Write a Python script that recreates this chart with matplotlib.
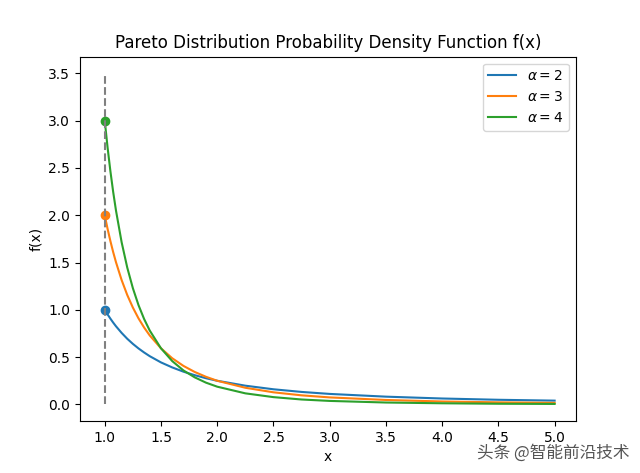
import matplotlib
matplotlib.use('Agg')
import matplotlib.pyplot as plt

# values
x = [1.0, 1.025, 1.05, 1.075, 1.1, 1.15, 1.2, 1.25, 1.3, 1.35, 1.4, 1.5, 1.6, 1.7, 1.8,
     1.9, 2.0, 2.25, 2.5, 2.75, 3.0, 3.5, 4.0, 4.5, 5.0]
f_a2 = [1.0, 0.952, 0.907, 0.865, 0.826, 0.756, 0.694, 0.640, 0.592, 0.549, 0.510, 0.444,
        0.391, 0.346, 0.309, 0.277, 0.250, 0.198, 0.160, 0.132, 0.111, 0.082, 0.0625, 0.049, 0.040]
f_a3 = [2.0, 1.857, 1.728, 1.610, 1.503, 1.315, 1.157, 1.024, 0.910, 0.813, 0.729, 0.593,
        0.488, 0.407, 0.343, 0.292, 0.250, 0.176, 0.128, 0.096, 0.074, 0.047, 0.031, 0.022, 0.016]
f_a4 = [3.0, 2.718, 2.468, 2.246, 2.049, 1.715, 1.447, 1.229, 1.050, 0.903, 0.781, 0.593,
        0.458, 0.359, 0.286, 0.230, 0.1875, 0.117, 0.077, 0.052, 0.037, 0.020, 0.012, 0.007, 0.005]
labels = [r'$\alpha=2$', r'$\alpha=3$', r'$\alpha=4$']
start_vals = [1.0, 2.0, 3.0]

fig = plt.figure(figsize=(6.4, 4.73), dpi=100)
ax = fig.add_subplot(111)

colors = ['C0', 'C1', 'C2']
for ys, lab, c, s in zip([f_a2, f_a3, f_a4], labels, colors, start_vals):
    ax.plot(x, ys, color=c, label=lab)
    ax.scatter([x[0]], [s], color=c, zorder=3)

ax.vlines(1.0, 0, 3.5, colors='gray', linestyles='dashed', zorder=4)

ax.set_xlim(0.78, 5.19)
ax.set_title('Pareto Distribution Probability Density Function f(x)')
ax.set_xlabel('x')
ax.set_ylabel('f(x)')
ax.legend(loc='upper right')

# watermark
fig.text(0.745, 0.033, '头条 @智能前沿技术', fontsize=12, color='#555555',
         family=['Noto Sans CJK SC', 'DejaVu Sans'])

fig.savefig('out.png', dpi=100)
